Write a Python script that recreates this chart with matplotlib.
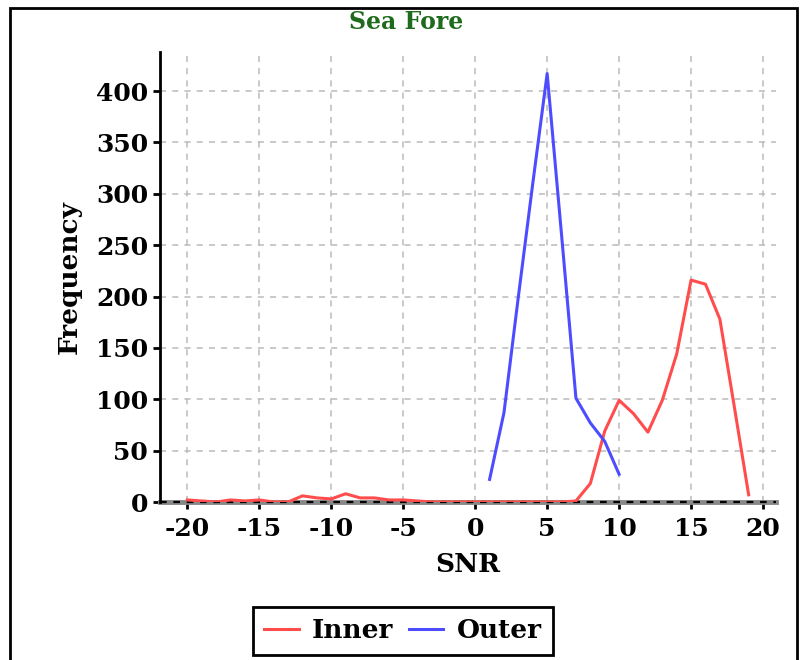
import numpy as np
import matplotlib.pyplot as plt
from matplotlib.patches import Rectangle

# SNR histogram counts
snr_inner = list(range(-20, 20))
freq_inner = [2, 1, 0, 2, 1, 2, 0, 0, 6, 4, 3, 8, 4, 4, 2, 2, 1, 0, 0, 0,
              0, 0, 0, 0, 0, 0, 0, 1, 18, 69, 99, 86, 68, 99, 144, 216, 212, 178, 93, 7]
snr_outer = [1, 2, 3, 4, 5, 6, 7, 8, 9, 10]
freq_outer = [22, 87, 200, 310, 417, 260, 101, 77, 59, 27]

plt.rcParams['font.family'] = ['DejaVu Serif']
plt.rcParams['font.weight'] = 'bold'
plt.rcParams['axes.unicode_minus'] = False

fig = plt.figure(figsize=(8.05, 6.6), dpi=100)
ax = fig.add_axes([160 / 805, 1 - 502 / 660, 616 / 805, 450 / 660])

# outer frame
fig.patches.append(Rectangle((10 / 805, -0.05), 787 / 805, 1.05 - 8 / 660,
                             transform=fig.transFigure, fill=False,
                             edgecolor='black', linewidth=2))

ax.plot(snr_inner, freq_inner, color='#ff4d4d', lw=2.2, label='Inner', zorder=3)
ax.plot(snr_outer, freq_outer, color='#4d4dff', lw=2.2, label='Outer', zorder=3)

ax.set_xlim(-21.9, 20.9)
ax.set_ylim(0, 438)
ax.set_xticks(np.arange(-20, 21, 5))
ax.set_yticks(np.arange(0, 401, 50))
ax.grid(True, color='#bbbbbb', linestyle=(0, (4, 4)), linewidth=1.1)
ax.set_axisbelow(True)

for s in ['top', 'right', 'bottom']:
    ax.spines[s].set_visible(False)
ax.spines['left'].set_linewidth(2)

# zero line
ax.axhline(0, color='#888888', lw=3.5, zorder=2, clip_on=False)
ax.axhline(0, color='black', lw=1.6, linestyle=(0, (3, 3)), zorder=2, clip_on=False)

ax.tick_params(axis='both', labelsize=18, width=2, length=5, color='black')
ax.tick_params(axis='x', pad=6)
for lab in ax.get_xticklabels() + ax.get_yticklabels():
    lab.set_fontweight('bold')

ax.set_xlabel('SNR', fontsize=19, fontweight='bold', labelpad=8)
ax.set_ylabel('Frequency', fontsize=19, fontweight='bold', labelpad=10)
fig.text(406 / 805, 1 - 22 / 660, 'Sea Fore', fontsize=17, fontweight='bold',
         color='#1e6b1e', ha='center', va='center')

leg = fig.legend(loc='center', bbox_to_anchor=(403 / 805, 1 - 631 / 660), ncol=2,
                 fontsize=19, frameon=True, fancybox=False, edgecolor='black',
                 framealpha=1, handlelength=1.3, columnspacing=0.6,
                 handletextpad=0.5, borderpad=0.45, borderaxespad=0)
leg.get_frame().set_linewidth(2)
for t in leg.get_texts():
    t.set_fontweight('bold')

fig.savefig('out.png', dpi=100)
